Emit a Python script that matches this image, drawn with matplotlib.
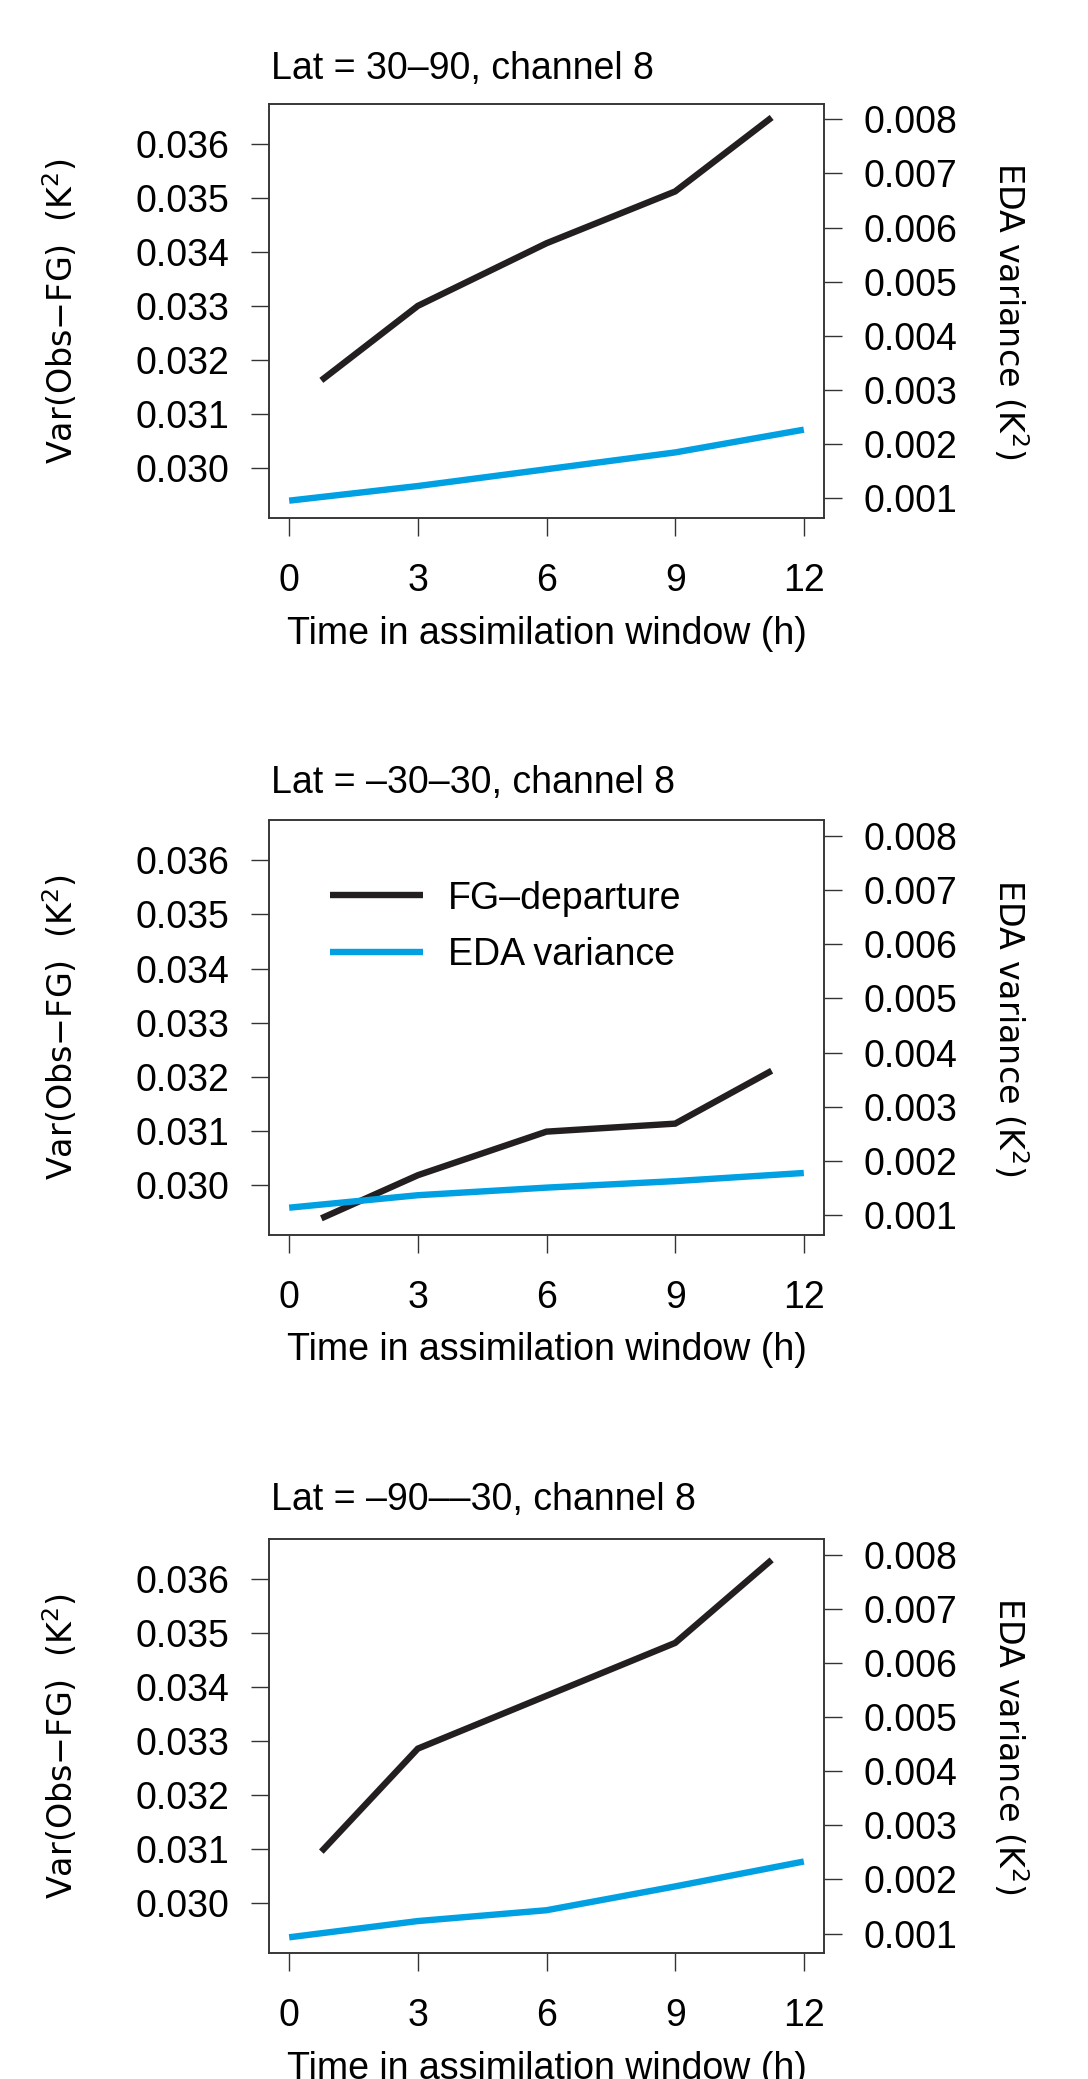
import matplotlib
matplotlib.use("Agg")
import matplotlib.pyplot as plt

plt.rcParams["mathtext.fontset"] = "dejavusans"

# --- data ---
t_fg = [0.75, 3, 6, 9, 11.25]
t_eda = [0, 3, 6, 9, 12]

titles = ["Lat = 30–90, channel 8",
          "Lat = –30–30, channel 8",
          "Lat = –90––30, channel 8"]
fg_departure = [
    [0.03162, 0.03300, 0.03416, 0.03512, 0.03649],
    [0.029375, 0.030173, 0.03098, 0.031128, 0.032107],
    [0.03095, 0.03286, 0.03384, 0.03482, 0.03636],
]
eda_variance = [
    [0.00096, 0.00123, 0.00154, 0.00185, 0.00227],
    [0.00114, 0.00137, 0.00151, 0.00163, 0.00178],
    [0.00093, 0.00123, 0.00143, 0.00187, 0.00233],
]
x_ticks = [0, 3, 6, 9, 12]
left_ticks = [0.030, 0.031, 0.032, 0.033, 0.034, 0.035, 0.036]
right_ticks = [0.001, 0.002, 0.003, 0.004, 0.005, 0.006, 0.007, 0.008]

BLACK = "#231f20"
BLUE = "#00a0e2"
SPINE = "#333333"
W, H = 1088, 2079
TXT = ["Liberation Sans", "DejaVu Sans"]
LAB = ["DejaVu Sans"]
FS = 27

# axes boxes in pixels: (left, top, right, bottom); title baseline y
boxes = [(268.6, 104.0, 824.4, 518.0),
         (268.6, 820.5, 824.4, 1234.8),
         (268.6, 1539.4, 824.4, 1953.0)]
title_y = [79.5, 793.0, 1509.6]

fig = plt.figure(figsize=(W / 100, H / 100), dpi=100)
fig.patch.set_facecolor("white")

for i, (l, t, r, b) in enumerate(boxes):
    ax = fig.add_axes([l / W, 1 - b / H, (r - l) / W, (b - t) / H])
    ax2 = ax.twinx()

    ln_fg, = ax.plot(t_fg, fg_departure[i], color=BLACK, lw=4.6,
                     solid_capstyle="butt", solid_joinstyle="miter")
    ln_eda, = ax2.plot(t_eda, eda_variance[i], color=BLUE, lw=4.6,
                       solid_capstyle="butt", solid_joinstyle="miter")

    ax.set_xlim(-0.48, 12.48)
    ax.set_ylim(0.02907, 0.03674)
    ax2.set_ylim(0.00064, 0.00828)

    ax.set_xticks(x_ticks)
    ax.set_xticklabels([str(v) for v in x_ticks], family=TXT, fontsize=FS)
    ax.set_yticks(left_ticks)
    ax.set_yticklabels([f"{v:.3f}" for v in left_ticks], family=TXT, fontsize=FS)
    ax2.set_yticks(right_ticks)
    ax2.set_yticklabels([f"{v:.3f}" for v in right_ticks], family=TXT, fontsize=FS)

    ax.tick_params(axis="x", length=13.3, width=1.0, color=SPINE, pad=19)
    ax.tick_params(axis="y", length=13.3, width=1.0, color=SPINE, pad=15)
    ax2.tick_params(axis="y", length=13.3, width=1.0, color=SPINE, pad=15)
    for a in (ax, ax2):
        for s in a.spines.values():
            s.set_linewidth(1.1)
            s.set_color(SPINE)

    ax.set_xlabel("Time in assimilation window (h)", family=TXT, fontsize=FS,
                  labelpad=12)
    ax.set_ylabel(r"Var(Obs−FG)  (K$^2$)", family=LAB, fontsize=24)
    ax2.set_ylabel(r"EDA variance (K$^2$)", family=LAB, fontsize=24,
                   rotation=270, va="center")
    ax.yaxis.set_label_coords((80 - l) / (r - l), 0.5)
    ax2.yaxis.set_label_coords((1010 - l) / (r - l), 0.5)

    fig.text((l + 2) / W, 1 - title_y[i] / H, titles[i], family=TXT,
             fontsize=FS, ha="left", va="baseline")

    if i == 1:
        ax.legend([ln_fg, ln_eda], ["FG–departure", "EDA variance"],
                  loc="upper left", bbox_to_anchor=(0.11, 0.855),
                  frameon=False, borderpad=0, borderaxespad=0,
                  handlelength=2.5, handletextpad=0.65, labelspacing=0.55,
                  prop={"family": TXT, "size": FS})

fig.savefig("out.png", dpi=100, facecolor="white")
